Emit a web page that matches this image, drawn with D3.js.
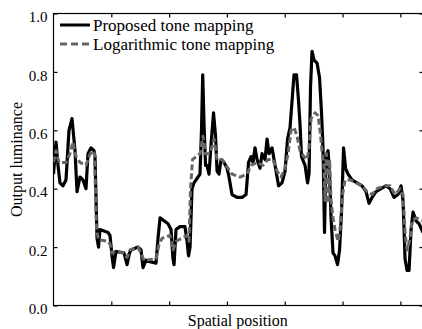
<!DOCTYPE html>
<html>
<head>
<meta charset="utf-8">
<script src="https://cdn.jsdelivr.net/npm/d3@7"></script>
<style>
  html, body { margin: 0; padding: 0; background: #fff; }
  svg { display: block; font-family: "Liberation Serif", "Times New Roman", serif; }
</style>
</head>
<body>
<svg id="chart" width="422" height="329"></svg>
<script>
// Spatial position samples and output luminance of the proposed tone mapping
const proposedX = [0, 4.3, 7.8, 11.2, 16.4, 21.6, 26.8, 32.0, 37.2, 40.7, 45.8, 51.0, 56.2, 59.7, 64.9, 70.1, 71.8, 75.3, 77.9, 80.4, 94.3, 97.7, 101.2, 103.8, 108.1, 121.9, 127.2, 131.5, 134.1, 146.2, 151.4, 154.8, 160.0, 167.0, 177.3, 180.8, 184.3, 191.2, 198.1, 203.3, 206.7, 208.5, 211.9, 218.8, 227.4, 231.0, 233.6, 236.2, 239.6, 243.0, 250.0, 253.4, 256.0, 258.1, 260.4, 263.0, 265.5, 269.0, 272.5, 276.8, 280.3, 282.9, 286.3, 289.8, 295.0, 300.2, 303.6, 308.8, 317.5, 326.1, 333.0, 337.4, 341.7, 345.1, 348.6, 352.1, 357.2, 360.7, 365.9, 369.4, 372.8, 378.0, 383.2, 389.3, 395.3, 400.5, 404.8, 409.2, 412.6, 416.0, 420.4, 423.9, 426.4, 429.0, 435.1, 439.4, 442.0, 444.6, 447.2, 450.7, 455.9, 460.2, 463.6, 466.2, 468.8, 471.4, 474.9, 477.5, 480.1, 483.5, 487.0, 491.3, 494.8, 498.2, 501.7, 505.2, 509.5, 516.4, 525.1, 533.7, 540.6, 545.8, 551.0, 557.9, 566.6, 575.2, 582.1, 589.0, 595.9, 601.1, 604.6, 608.1, 611.5, 615.0, 618.5, 621.9, 627.1, 632.3, 639.2];
const proposedY = [0.45, 0.56, 0.48, 0.42, 0.41, 0.43, 0.60, 0.64, 0.53, 0.39, 0.44, 0.43, 0.40, 0.52, 0.54, 0.53, 0.51, 0.23, 0.20, 0.26, 0.25, 0.24, 0.17, 0.13, 0.185, 0.18, 0.14, 0.18, 0.19, 0.20, 0.19, 0.13, 0.155, 0.15, 0.145, 0.23, 0.30, 0.29, 0.28, 0.26, 0.16, 0.14, 0.26, 0.27, 0.27, 0.22, 0.17, 0.20, 0.40, 0.42, 0.44, 0.45, 0.60, 0.79, 0.62, 0.48, 0.48, 0.45, 0.55, 0.66, 0.58, 0.46, 0.45, 0.50, 0.49, 0.47, 0.44, 0.38, 0.37, 0.37, 0.38, 0.49, 0.51, 0.49, 0.54, 0.50, 0.47, 0.52, 0.50, 0.57, 0.52, 0.54, 0.48, 0.41, 0.42, 0.46, 0.57, 0.61, 0.70, 0.79, 0.79, 0.70, 0.62, 0.51, 0.48, 0.42, 0.45, 0.75, 0.87, 0.84, 0.83, 0.78, 0.66, 0.54, 0.25, 0.51, 0.53, 0.45, 0.30, 0.18, 0.17, 0.14, 0.19, 0.32, 0.54, 0.47, 0.45, 0.43, 0.42, 0.41, 0.39, 0.35, 0.37, 0.39, 0.40, 0.41, 0.40, 0.37, 0.38, 0.41, 0.36, 0.16, 0.12, 0.12, 0.26, 0.32, 0.29, 0.28, 0.25];

// Spatial position samples and output luminance of the logarithmic tone mapping
const logX = [0, 4.3, 9.5, 21.6, 28.5, 33.7, 38.9, 45.8, 56.2, 61.4, 66.6, 70.9, 74.4, 77.9, 94.3, 97.7, 101.2, 106.4, 121.9, 127.2, 132.3, 146.2, 153.1, 156.6, 177.3, 182.5, 187.7, 201.5, 206.7, 211.9, 230.9, 234.4, 237.0, 240.5, 253.4, 258.6, 263.0, 270.7, 277.7, 282.9, 291.5, 298.4, 308.8, 322.6, 334.8, 341.7, 352.1, 362.4, 371.1, 379.7, 386.7, 393.6, 400.5, 405.7, 410.9, 416.0, 421.2, 426.4, 433.3, 438.6, 442.0, 445.5, 452.4, 457.6, 461.0, 464.5, 467.9, 469.7, 472.3, 474.9, 477.5, 480.1, 483.5, 487.0, 492.2, 495.6, 500.0, 504.3, 513.0, 523.4, 533.7, 542.3, 551.0, 559.7, 571.8, 582.1, 590.7, 599.5, 604.6, 608.1, 611.5, 615.9, 620.2, 627.1, 639.2];
const logY = [0.49, 0.53, 0.49, 0.49, 0.52, 0.56, 0.51, 0.49, 0.48, 0.51, 0.53, 0.52, 0.26, 0.225, 0.22, 0.21, 0.18, 0.185, 0.18, 0.165, 0.19, 0.20, 0.17, 0.155, 0.16, 0.21, 0.23, 0.24, 0.19, 0.22, 0.24, 0.22, 0.40, 0.50, 0.52, 0.58, 0.52, 0.52, 0.57, 0.50, 0.50, 0.48, 0.45, 0.44, 0.45, 0.48, 0.49, 0.48, 0.50, 0.50, 0.46, 0.44, 0.47, 0.52, 0.60, 0.61, 0.58, 0.53, 0.51, 0.50, 0.54, 0.64, 0.66, 0.65, 0.60, 0.53, 0.48, 0.36, 0.52, 0.35, 0.50, 0.36, 0.30, 0.26, 0.22, 0.26, 0.38, 0.43, 0.43, 0.42, 0.41, 0.39, 0.38, 0.40, 0.41, 0.41, 0.38, 0.40, 0.38, 0.25, 0.19, 0.22, 0.29, 0.30, 0.29];

// Axis ticks
const xTicks = [100, 200, 300, 400, 500, 600];
const yTicks = [0.0, 0.2, 0.4, 0.6, 0.8, 1.0];
const yTickLabels = ["0.0", "0.2", "0.4", "0.6", "0.8", "1.0"];

const seriesNames = ["Proposed tone mapping", "Logarithmic tone mapping"];

const svg = d3.select("#chart");
const margin = { left: 53.5, top: 13.5, bottom: 305.5, right: 423.5 };

const x = d3.scaleLinear().domain([0, 640]).range([margin.left, margin.right]);
const y = d3.scaleLinear().domain([0, 1]).range([margin.bottom, margin.top]);

const tickLen = 4;
const tickFont = 15;
const legendFont = 17;
const titleFont = 16;

// Box with inward ticks on all four sides
const g = svg.append("g");
g.append("rect")
  .attr("x", margin.left).attr("y", margin.top)
  .attr("width", margin.right - margin.left)
  .attr("height", margin.bottom - margin.top)
  .attr("fill", "none").attr("stroke", "#000").attr("stroke-width", 1.2);

const axisB = d3.axisBottom(x).tickValues(xTicks).tickSizeInner(-tickLen).tickSizeOuter(0).tickFormat("");
const axisT = d3.axisTop(x).tickValues(xTicks).tickSizeInner(-tickLen).tickSizeOuter(0).tickFormat("");
const axisL = d3.axisLeft(y).tickValues(yTicks).tickSizeInner(-tickLen).tickSizeOuter(0)
  .tickPadding(6).tickFormat((d, i) => yTickLabels[i]);
const axisR = d3.axisRight(y).tickValues(yTicks).tickSizeInner(-tickLen).tickSizeOuter(0).tickFormat("");

function styleAxis(sel) {
  sel.select(".domain").remove();
  sel.selectAll(".tick line").attr("stroke", "#000").attr("stroke-width", 1.2);
  sel.selectAll(".tick text").attr("fill", "#000").attr("dy", "0.55em")
    .style("font-family", "'Liberation Serif', serif").style("font-size", tickFont + "px");
}
g.append("g").attr("transform", `translate(0,${margin.bottom})`).call(axisB).call(styleAxis);
g.append("g").attr("transform", `translate(0,${margin.top})`).call(axisT).call(styleAxis);
g.append("g").attr("transform", `translate(${margin.left},0)`).call(axisL).call(styleAxis);
g.append("g").attr("transform", `translate(${margin.right},0)`).call(axisR).call(styleAxis);

// Curves
const clipId = "plot-clip";
svg.append("clipPath").attr("id", clipId).append("rect")
  .attr("x", margin.left).attr("y", margin.top)
  .attr("width", margin.right - margin.left).attr("height", margin.bottom - margin.top);

const line = d3.line().x(d => x(d[0])).y(d => y(d[1]));
const proposed = d3.zip(proposedX, proposedY);
const logarithmic = d3.zip(logX, logY);

const plot = svg.append("g").attr("clip-path", `url(#${clipId})`);
plot.append("path").datum(proposed)
  .attr("d", line).attr("fill", "none").attr("stroke", "#000")
  .attr("stroke-width", 3.2).attr("stroke-linejoin", "round");
plot.append("path").datum(logarithmic)
  .attr("d", line).attr("fill", "none").attr("stroke", "#666")
  .attr("stroke-width", 3).attr("stroke-dasharray", "6,3").attr("stroke-linejoin", "round");

// Legend
const legend = svg.append("g");
const legendStyles = [
  { stroke: "#000", dash: null },
  { stroke: "#666", dash: "7,4" }
];
seriesNames.forEach((name, i) => {
  const ly = 25 + i * 19;
  legend.append("line")
    .attr("x1", 60).attr("x2", 90).attr("y1", ly).attr("y2", ly)
    .attr("stroke", legendStyles[i].stroke).attr("stroke-width", 3)
    .attr("stroke-dasharray", legendStyles[i].dash);
  legend.append("text")
    .attr("x", 93).attr("y", ly + 5.5)
    .style("font-size", legendFont + "px").attr("fill", "#000")
    .text(name);
});

// Axis titles
svg.append("text")
  .attr("x", (margin.left + 422) / 2).attr("y", 326)
  .attr("text-anchor", "middle").style("font-size", titleFont + "px")
  .text("Spatial position");
svg.append("text")
  .attr("transform", `translate(22,${(margin.top + margin.bottom) / 2}) rotate(-90)`)
  .attr("text-anchor", "middle").style("font-size", titleFont + "px")
  .text("Output luminance");
</script>
</body>
</html>
